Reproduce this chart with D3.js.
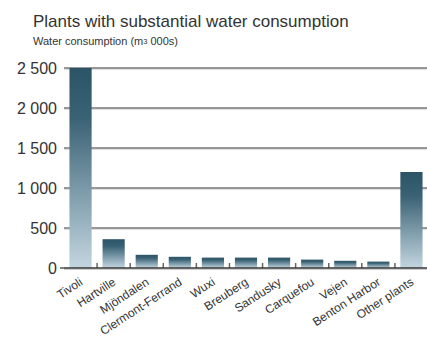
<!DOCTYPE html>
<html>
<head>
<meta charset="utf-8">
<script src="https://cdn.jsdelivr.net/npm/d3@7"></script>
<style>
  body { margin: 0; background: #fff; }
  svg { font-family: "Liberation Sans", Arial, sans-serif; }
</style>
</head>
<body>
<svg width="427" height="340"></svg>
<script>
const plants = ['Tivoli', 'Hartville', 'Mjöndalen', 'Clermont-Ferrand', 'Wuxi', 'Breuberg',
  'Sandusky', 'Carquefou', 'Vejen', 'Benton Harbor', 'Other plants']
const consumption = [2500, 360, 165, 140, 130, 130, 130, 105, 90, 80, 1200]
const yTicks = [0, 500, 1000, 1500, 2000, 2500]

const svg = d3.select('svg')
const plotLeft = 64, plotRight = 428, plotTop = 68, plotBottom = 268

// vertical gradient shared by every bar
const grad = svg.append('defs').append('linearGradient')
  .attr('id', 'barGrad')
  .attr('x1', 0).attr('y1', 0).attr('x2', 0).attr('y2', 1)
grad.append('stop').attr('offset', '0%').attr('stop-color', '#2c5467')
grad.append('stop').attr('offset', '25%').attr('stop-color', '#3a6275')
grad.append('stop').attr('offset', '100%').attr('stop-color', '#c3d6e0')

const x = d3.scaleBand().domain(plants).range([plotLeft, plotRight]).paddingInner(0.33).paddingOuter(0.165)
const y = d3.scaleLinear().domain([0, 2500]).range([plotBottom, plotTop])

// title
svg.append('text').attr('x', 33).attr('y', 27)
  .attr('font-size', 17).attr('fill', '#333')
  .text('Plants with substantial water consumption')
const sub = svg.append('text').attr('x', 33).attr('y', 45)
  .attr('font-size', 11).attr('fill', '#333')
sub.append('tspan').text('Water consumption (m')
sub.append('tspan').attr('font-size', 7.5).attr('dy', -1).text('3')
sub.append('tspan').attr('dy', 1).text(' 000s)')

// gridlines with light shadow line underneath
const grid = svg.append('g')
grid.selectAll('line.shadow').data(yTicks.slice(1)).enter().append('line')
  .attr('class', 'shadow')
  .attr('x1', plotLeft).attr('x2', 427)
  .attr('y1', d => y(d) + 1.5).attr('y2', d => y(d) + 1.5)
  .attr('stroke', '#ddd').attr('stroke-width', 1)
grid.selectAll('line.main').data(yTicks.slice(1)).enter().append('line')
  .attr('class', 'main')
  .attr('x1', plotLeft).attr('x2', 427)
  .attr('y1', d => y(d)).attr('y2', d => y(d))
  .attr('stroke', '#333').attr('stroke-width', 1.2)

// y labels
svg.append('g').selectAll('text').data(yTicks).enter().append('text')
  .attr('x', 57).attr('y', d => y(d)).attr('dy', '0.35em')
  .attr('text-anchor', 'end').attr('font-size', 16).attr('fill', '#333')
  .text(d => d3.format(',')(d).replace(',', ' '))

// zero tick
svg.append('line').attr('x1', 60).attr('x2', plotLeft).attr('y1', plotBottom).attr('y2', plotBottom)
  .attr('stroke', '#333').attr('stroke-width', 1.2)

// bars
svg.append('g').selectAll('rect').data(plants).enter().append('rect')
  .attr('x', d => x(d))
  .attr('width', x.bandwidth())
  .attr('y', (d, i) => y(consumption[i]))
  .attr('height', (d, i) => plotBottom - y(consumption[i]))
  .attr('fill', 'url(#barGrad)')

// small ticks between bars
const step = x.step()
svg.append('g').selectAll('line').data(plants.slice(1)).enter().append('line')
  .attr('x1', d => x(d) - (step - x.bandwidth()) / 2)
  .attr('x2', d => x(d) - (step - x.bandwidth()) / 2)
  .attr('y1', plotBottom - 5).attr('y2', plotBottom)
  .attr('stroke', '#666').attr('stroke-width', 1.5)

// baseline
svg.append('line').attr('x1', plotLeft).attr('x2', 427).attr('y1', plotBottom + 1.5).attr('y2', plotBottom + 1.5)
  .attr('stroke', '#ccc').attr('stroke-width', 1)
svg.append('line').attr('x1', plotLeft).attr('x2', 427).attr('y1', plotBottom).attr('y2', plotBottom)
  .attr('stroke', '#333').attr('stroke-width', 1.6)

// x labels rotated
svg.append('g').selectAll('text').data(plants).enter().append('text')
  .attr('transform', d => `translate(${x(d) + x.bandwidth() / 2 + 3},${plotBottom + 16}) rotate(-33)`)
  .attr('text-anchor', 'end')
  .attr('font-size', 12).attr('fill', '#333')
  .text(d => d)
</script>
</body>
</html>
